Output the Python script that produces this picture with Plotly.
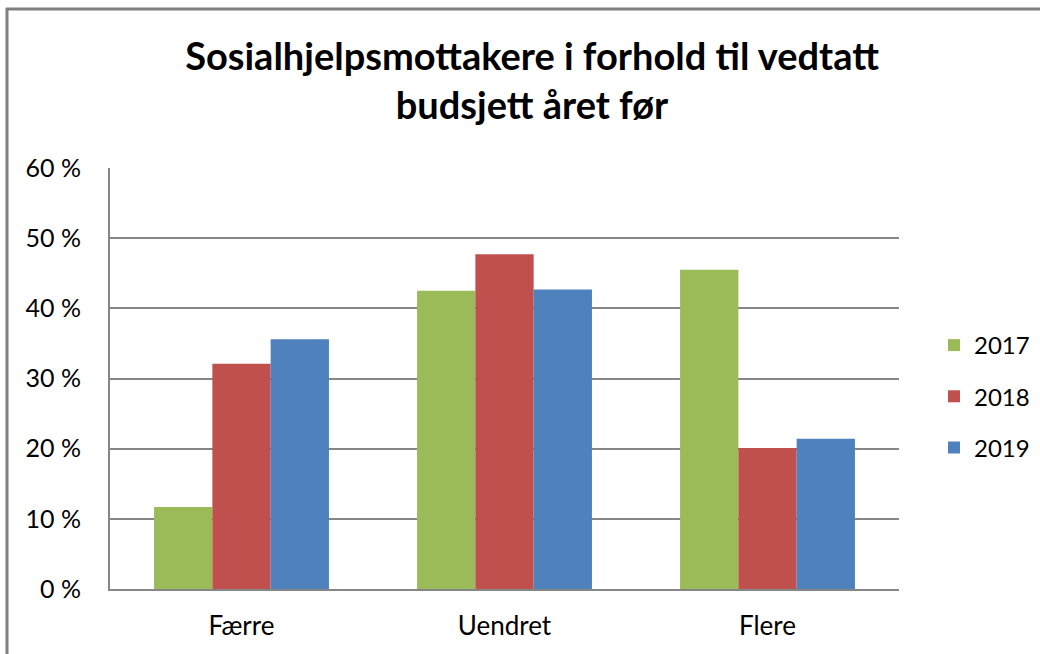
import plotly.graph_objects as go

categories = ["Færre", "Uendret", "Flere"]
years = ["2017", "2018", "2019"]
values_2017 = [11.7, 42.5, 45.5]
values_2018 = [32.1, 47.7, 20.1]
values_2019 = [35.6, 42.7, 21.4]
colors = ["#9BBB59", "#C0504D", "#4F81BD"]
y_ticks = [0, 10, 20, 30, 40, 50, 60]
y_tick_labels = [f"{v} %" for v in y_ticks]

W, H = 1040, 654
L, R, T, B = 110, 141, 168, 65

fig = go.Figure()
for yr, vals, col in zip(years, [values_2017, values_2018, values_2019], colors):
    fig.add_trace(go.Bar(
        x=categories, y=vals, name=yr, legendgroup=yr,
        marker=dict(color=col, line=dict(width=0)),
    ))

font_family = "Lato, 'Open Sans', sans-serif"

def px_x(px):
    return (px - L) / (W - L - R)

def px_y(py):
    return (H - B - py) / (H - T - B)

fig.update_layout(
    width=W, height=H,
    margin=dict(l=L, r=R, t=T, b=B, autoexpand=False),
    paper_bgcolor="white", plot_bgcolor="white",
    barmode="group", bargap=0.335, bargroupgap=0,
    font=dict(family=font_family, size=24, color="#000000"),
    title=dict(
        text="<b>Sosialhjelpsmottakere i forhold til vedtatt<br>budsjett året før</b>",
        x=532 / W, xref="container", xanchor="center",
        y=1 - 70 / H, yref="container", yanchor="top",
        font=dict(family=font_family, size=38, color="#000000"),
    ),
    xaxis=dict(
        showgrid=False, showline=True, linecolor="#868686", linewidth=2,
        ticks="", ticklabelstandoff=13, tickfont=dict(size=26),
    ),
    yaxis=dict(
        range=[0, 60], tickmode="array", tickvals=y_ticks, ticktext=y_tick_labels,
        showgrid=True, gridcolor="#868686", gridwidth=2,
        showline=True, linecolor="#868686", linewidth=2,
        zeroline=False, ticks="", ticklabelstandoff=22,
        tickfont=dict(size=25),
    ),
    legend=dict(
        x=px_x(934), xanchor="left", y=px_y(323), yanchor="top",
        font=dict(size=24), tracegroupgap=17,
        bgcolor="rgba(0,0,0,0)",
    ),
    shapes=[
        dict(type="line", xref="paper", yref="paper",
             x0=px_x(6), x1=px_x(1045), y0=px_y(9), y1=px_y(9),
             line=dict(color="#7F7F7F", width=3), layer="above"),
        dict(type="line", xref="paper", yref="paper",
             x0=px_x(7), x1=px_x(7), y0=px_y(8), y1=px_y(660),
             line=dict(color="#7F7F7F", width=3), layer="above"),
    ],
)

fig.write_html(
    "out.html",
    config={"displayModeBar": False},
    post_script="document.body.style.margin='0';document.body.style.overflow='hidden';",
)
